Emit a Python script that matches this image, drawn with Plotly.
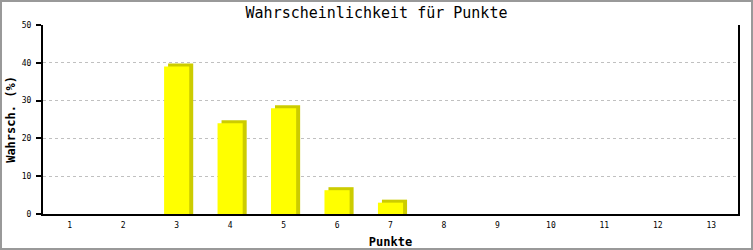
import plotly.graph_objects as go

categories = [1, 2, 3, 4, 5, 6, 7, 8, 9, 10, 11, 12, 13]
values = [0, 0, 39, 24, 28, 6.3, 3, 0, 0, 0, 0, 0, 0]
y_ticks = [0, 10, 20, 30, 40, 50]

W, H = 753, 250
ml, mr, mt, mb = 43, 15, 25, 36
pw, ph = W - ml - mr, H - mt - mb
x_per_px = 13.0 / pw
y_per_px = 50.0 / ph

bar_w = 0.47
sh_dx = 4 * x_per_px
sh_dy = 3 * y_per_px

mono = "DejaVu Sans Mono"

fig = go.Figure()
# shadow
fig.add_trace(go.Bar(
    x=categories,
    y=[v + sh_dy if v > 0 else 0 for v in values],
    width=bar_w, offset=-bar_w / 2 + sh_dx,
    marker=dict(color="#cccc00", line=dict(width=0)),
    hoverinfo="skip", showlegend=False,
))
fig.add_trace(go.Bar(
    x=categories, y=values,
    width=bar_w, offset=-bar_w / 2,
    marker=dict(color="#ffff00", line=dict(width=0)),
    showlegend=False,
))

fig.update_layout(
    width=W, height=H,
    margin=dict(l=ml, r=mr, t=mt, b=mb, pad=0, autoexpand=False),
    paper_bgcolor="white", plot_bgcolor="white",
    barmode="overlay",
    font=dict(family=mono, color="black", size=8),
    title=dict(text="Wahrscheinlichkeit für Punkte",
               font=dict(family=mono, size=15, color="black"),
               x=0.5, xref="container", xanchor="center",
               y=1 - 13 / H, yref="container", yanchor="middle"),
    xaxis=dict(
        range=[0.5, 13.5], tickmode="array", tickvals=categories,
        ticktext=[str(c) for c in categories],
        showline=True, linecolor="black", linewidth=2,
        ticks="", showgrid=False, zeroline=False,
        tickfont=dict(family=mono, size=8, color="black"),
        ticklabelstandoff=2,
        title=dict(text="<b>Punkte</b>", font=dict(family=mono, size=12, color="black"), standoff=9),
        automargin=False,
        fixedrange=True,
    ),
    yaxis=dict(
        range=[0, 50], tickmode="array", tickvals=y_ticks,
        showline=True, mirror=True, linecolor="black", linewidth=2,
        ticks="outside", ticklen=5, tickcolor="black", tickwidth=2,
        showgrid=True, gridcolor="#c0c0c0", griddash="dot", gridwidth=1,
        zeroline=False,
        tickfont=dict(family=mono, size=8, color="black"),
        ticklabelstandoff=3,
        title=dict(text="<b>Wahrsch. (%)</b>", font=dict(family=mono, size=12, color="black"), standoff=4),
        automargin=False,
        fixedrange=True,
    ),
    shapes=[dict(type="rect", xref="paper", yref="paper",
                 x0=(-ml + 1) / pw, x1=(pw + mr - 1) / pw,
                 y0=(-mb + 1) / ph, y1=(ph + mt - 1) / ph,
                 line=dict(color="#999999", width=2), layer="above")],
)

fig.write_html("out.html")
